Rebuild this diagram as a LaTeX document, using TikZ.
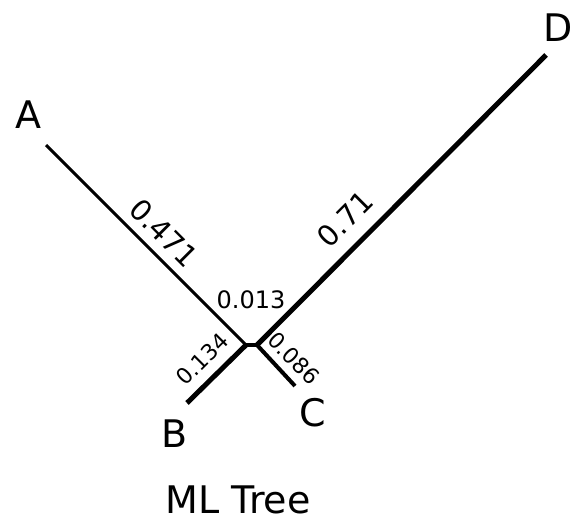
\documentclass[tikz,border=0pt]{standalone}
\usepackage{fontspec}
\setmainfont{DejaVu Sans}
\usetikzlibrary{positioning}

\begin{document}
\begin{tikzpicture}[x=1pt, y=-1pt,
    leaf/.style={font=\fontsize{38}{40}\selectfont, inner sep=0pt},
    blen/.style={font=\fontsize{29}{31}\selectfont, inner sep=0pt},
    sblen/.style={font=\fontsize{22}{24}\selectfont, inner sep=0pt}]
      \useasboundingbox (0,0) rectangle (575,522);

      % inner nodes and tips
      \coordinate (n1) at (246, 345);
      \coordinate (n2) at (257, 345);
      \coordinate (ta) at (46, 145);
      \coordinate (tb) at (187, 403);
      \coordinate (tc) at (295, 386);
      \coordinate (td) at (546, 55);

      \node[leaf] (la) at (28, 115) {A};
      \node[leaf] (lb) at (175, 434) {B};
      \node[leaf] (lc) at (313, 413) {C};
      \node[leaf] (ld) at (558, 28) {D};

      \draw[line width=3pt] (ta) -- (n1);
      \draw[line width=5pt] (tb) -- (n1);
      \draw[line width=4pt, line cap=rect] (n1) -- (n2);
      \draw[line width=4pt] (tc) -- (n2);
      \draw[line width=5pt] (td) -- (n2);

      \node[blen, rotate=-45] (ea) at (164, 233) {0.471};
      \node[blen, rotate=45] (ed) at (345, 219) {0.71};
      \node[sblen, font=\fontsize{24}{26}\selectfont] (ei) at (251, 300) {0.013};
      \node[sblen, rotate=45] (eb) at (202, 359) {0.134};
      \node[sblen, rotate=-45] (ec) at (294, 358) {0.086};

      \node[leaf] (title) at (238, 500) {ML Tree};
    \end{tikzpicture}
\end{document}
